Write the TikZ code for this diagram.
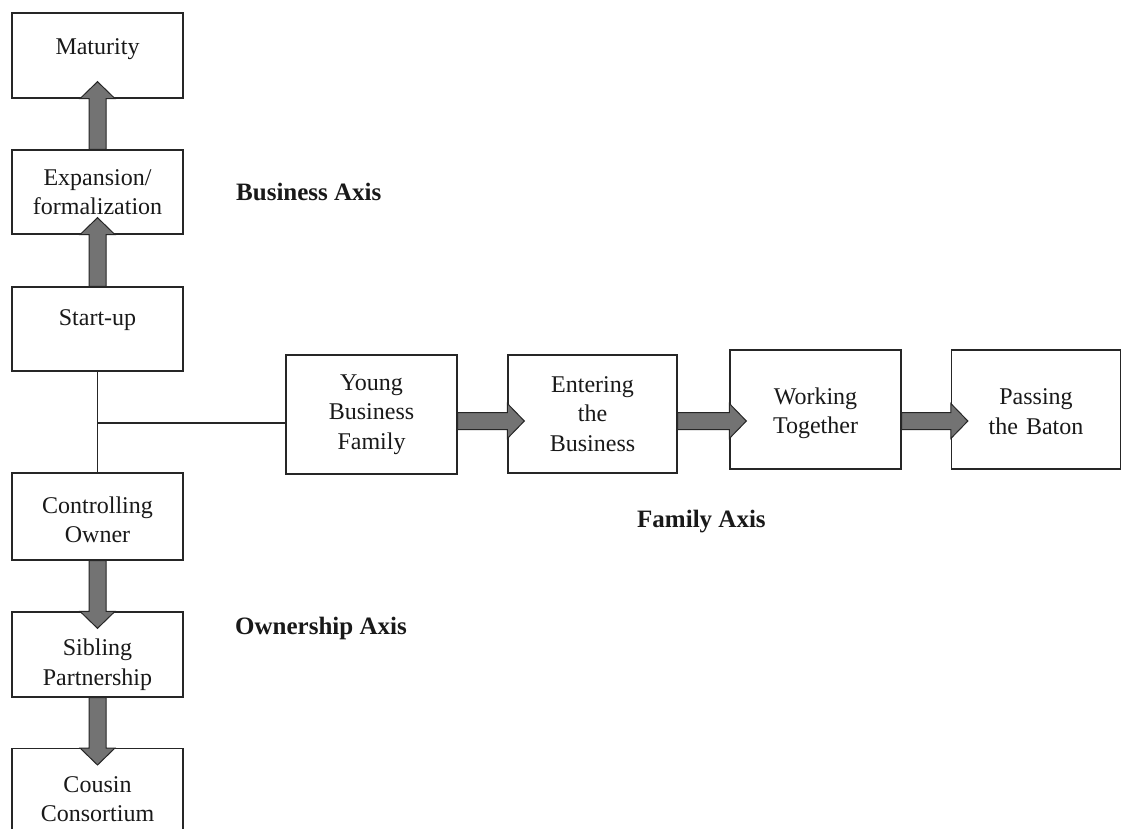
\documentclass[tikz,border=0pt]{standalone}
\usepackage{fontspec}
\setmainfont{Liberation Serif}
\usetikzlibrary{calc}

% fat block-arrow dimensions (pt)
\newcommand\shaftw{8.5}
\newcommand\headw{17.5}
\newcommand\headl{17}

% fat arrow pointing up, from the top of #1 into the bottom of #2
\newcommand\fatup[2]{%
  \draw[fat] ($(#1.north)+(-\shaftw,0)$) -- ($(#2.south)+(-\shaftw,0)$)
    -- ($(#2.south)+(-\headw,0)$) -- ($(#2.south)+(0,-\headl)$)
    -- ($(#2.south)+(\headw,0)$) -- ($(#2.south)+(\shaftw,0)$)
    -- ($(#1.north)+(\shaftw,0)$) -- cycle;}
% fat arrow pointing down, from the bottom of #1 into the top of #2
\newcommand\fatdown[2]{%
  \draw[fat] ($(#1.south)+(-\shaftw,0)$) -- ($(#2.north)+(-\shaftw,0)$)
    -- ($(#2.north)+(-\headw,0)$) -- ($(#2.north)+(0,\headl)$)
    -- ($(#2.north)+(\headw,0)$) -- ($(#2.north)+(\shaftw,0)$)
    -- ($(#1.south)+(\shaftw,0)$) -- cycle;}
% fat arrow pointing right along the row arrowrow, from #1 into #2
\newcommand\fatright[2]{%
  \draw[fat] ($(#1.east|-arrowrow)+(0,-\shaftw)$) -- ($(#2.west|-arrowrow)+(0,-\shaftw)$)
    -- ($(#2.west|-arrowrow)+(0,-\headw)$) -- ($(#2.west|-arrowrow)+(\headl,0)$)
    -- ($(#2.west|-arrowrow)+(0,\headw)$) -- ($(#2.west|-arrowrow)+(0,\shaftw)$)
    -- ($(#1.east|-arrowrow)+(0,\shaftw)$) -- cycle;}

\begin{document}
\begin{tikzpicture}[x=1pt,y=-1pt,
  box/.style={draw=black!85, line width=1.3pt, fill=white, inner sep=0pt,
    minimum width=171pt, text width=165pt, align=center,
    font=\fontsize{24}{29.5}\selectfont, text=black!90},
  raised/.style={text depth=#1},
  lowered/.style={text height=#1},
  fat/.style={draw=black!85, line width=1pt, fill=black!55, line join=miter},
  link/.style={draw=black!85, line width=1.3pt},
  axis/.style={font=\fontsize{25}{30}\selectfont\bfseries, text=black!90, inner sep=0pt}]

\useasboundingbox (0,0) rectangle (1123,828);
\clip (0,0) rectangle (1123,828);
\fill[white] (0,0) rectangle (1123,828);

% business axis
\node[box, minimum height=85pt, raised=18pt] (mat) at (97.5,55.5) {Maturity};
\node[box, minimum height=84pt] (exp) at (97.5,192) {Expansion/\\formalization};
\node[box, minimum height=84pt, raised=23pt] (start) at (97.5,329) {Start-up};

% ownership axis
\node[box, minimum height=87pt, lowered=23.4pt] (ctrl) at (97.5,516.5) {Controlling\\Owner};
\node[box, minimum height=85pt, lowered=37.4pt] (sib) at (97.5,654.5) {Sibling\\Partnership};
\node[box, minimum height=90pt, lowered=27.4pt, anchor=north] (cous) at (97.5,748) {Cousin\\Consortium};

% family axis
\node[box, minimum height=119pt] (young) at (371.5,414.5) {Young\\Business\\Family};
\node[box, minimum width=169pt, minimum height=118pt] (enter) at (592.5,414) {Entering\\the\\Business};
\node[box, minimum height=119pt, lowered=24.4pt] (work) at (815.5,409.5) {Working\\Together};
\node[box, minimum width=169pt, minimum height=119pt, lowered=20.4pt] (baton) at (1036,409.5) {Passing\\the Baton};

% axis captions
\node[axis, anchor=west] (bax) at (236,192) {Business Axis};
\node[axis, anchor=west] (fax) at (637,522) {Family Axis};
\node[axis, anchor=west] (oax) at (235,628) {Ownership Axis};

% rows used by the connectors
\coordinate (linkrow) at (0,423);
\coordinate (arrowrow) at (0,421);

% tree connecting the three axes
\draw[link] (start.south) -- (ctrl.north);
\draw[link] (start.south|-linkrow) -- (young.west|-linkrow);

% stage arrows
\fatup{exp}{mat}
\fatup{start}{exp}
\fatdown{ctrl}{sib}
\fatdown{sib}{cous}
\fatright{young}{enter}
\fatright{enter}{work}
\fatright{work}{baton}
\end{tikzpicture}
\end{document}
